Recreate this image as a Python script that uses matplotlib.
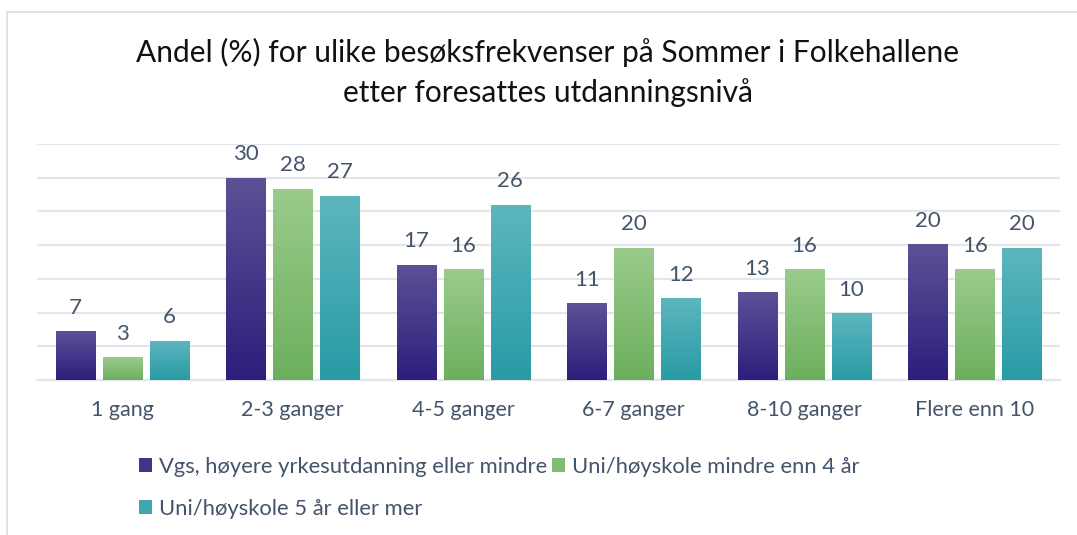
import numpy as np
import matplotlib
matplotlib.use('Agg')
import matplotlib.pyplot as plt
from matplotlib.colors import LinearSegmentedColormap
from matplotlib.patches import Rectangle

plt.rcParams['font.family'] = ['Lato', 'DejaVu Sans']

categories = ['1 gang', '2-3 ganger', '4-5 ganger', '6-7 ganger', '8-10 ganger', 'Flere enn 10']
series_names = ['Vgs, høyere yrkesutdanning eller mindre',
                'Uni/høyskole mindre enn 4 år',
                'Uni/høyskole 5 år eller mer']
vgs = [7.2, 30.0, 17.1, 11.4, 13.0, 20.1]
uni4 = [3.4, 28.4, 16.4, 19.6, 16.4, 16.4]
uni5 = [5.8, 27.3, 26.0, 12.1, 9.9, 19.6]

# (top colour, bottom colour) for the vertical gradient of each series
colours = [('#5b5297', '#2d1e7b'),
           ('#9acb8c', '#6daf5e'),
           ('#5db6be', '#289ba5')]

txt_col = '#44546a'
grid_col = '#e2e5ea'

fig = plt.figure(figsize=(10.77, 5.35), dpi=100)
ax = fig.add_axes([37/1077, 1-380/535, (1060-37)/1077, (380-144)/535])

# light frame round the chart area
fig.patches.append(Rectangle((7/1077, -0.1), 1.2, 1-12/535+0.1, transform=fig.transFigure,
                             fill=False, edgecolor='#d9dee5', linewidth=1.2))

x = np.arange(len(categories))
width = 0.229
step = 0.276
handles = []
for i, (vals, (c_top, c_bot)) in enumerate(zip([vgs, uni4, uni5], colours)):
    cmap = LinearSegmentedColormap.from_list('g%d' % i, [c_bot, c_top])
    bars = ax.bar(x + (i-1)*step, vals, width, color=c_bot, zorder=2)
    for b, v in zip(bars, vals):
        x0 = b.get_x()
        grad = np.linspace(0, 1, 256).reshape(-1, 1)
        im = ax.imshow(grad, cmap=cmap, origin='lower', aspect='auto',
                       extent=(x0, x0 + b.get_width(), 0, b.get_height()), zorder=3)
        im.set_clip_path(b)
        ax.text(x0 + b.get_width()/2, v + 2.0, '%.0f' % v, ha='center', va='bottom',
                fontsize=16, color=txt_col)
    # legend patch in the mid colour
    handles.append(Rectangle((0, 0), 1, 1, facecolor=cmap(0.45), edgecolor='none'))

ax.set_xlim(-0.5, len(categories)-0.5)
ax.set_ylim(0, 35)
ax.set_yticks(np.arange(0, 36, 5))
ax.yaxis.grid(True, color=grid_col, linewidth=1.5, zorder=0)
ax.set_axisbelow(True)
ax.tick_params(axis='y', left=False, labelleft=False)
ax.tick_params(axis='x', bottom=False, labelsize=15.5, labelcolor=txt_col, pad=11)
ax.set_xticks(x)
ax.set_xticklabels(categories)
for s in ['top', 'right', 'left']:
    ax.spines[s].set_visible(False)
ax.spines['bottom'].set_color(grid_col)
ax.spines['bottom'].set_linewidth(1.5)

fig.text(548/1077, 1-52/535, 'Andel (%) for ulike besøksfrekvenser på Sommer i Folkehallene',
         ha='center', va='center', fontsize=21.5, color='#111111')
fig.text(548/1077, 1-93/535, 'etter foresattes utdanningsnivå',
         ha='center', va='center', fontsize=21.5, color='#111111')

# ncol=2 fills column-wise, so order as [first, third, second]
leg = fig.legend([handles[0], handles[2], handles[1]],
                 [series_names[0], series_names[2], series_names[1]],
                 ncol=2, loc='upper left', bbox_to_anchor=(130/1077, 1-448/535),
                 frameon=False, fontsize=15.8, labelcolor=txt_col,
                 handlelength=0.6, handleheight=0.6, handletextpad=0.3,
                 columnspacing=0.25, labelspacing=1.0, borderaxespad=0)

fig.savefig('out.png', dpi=100)
